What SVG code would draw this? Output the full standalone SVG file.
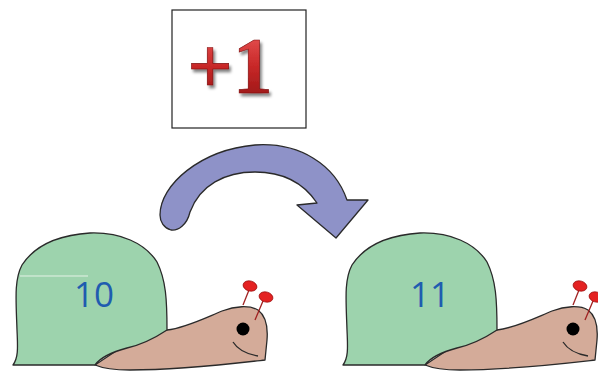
<svg xmlns="http://www.w3.org/2000/svg" xmlns:xlink="http://www.w3.org/1999/xlink" width="598" height="374" viewBox="0 0 598 374">
<style>
.ol{stroke:#2a2a2a;stroke-width:1.3;stroke-linejoin:round}
.shell{fill:#9dd3ad}
.body{fill:#d4ab99}
.num{font-family:"Open Sans","Noto Sans",sans-serif;font-size:35px;fill:#1f5cb0;text-anchor:middle}
</style>
<defs>
<linearGradient id="red" x1="0" y1="0" x2="0" y2="1">
<stop offset="0" stop-color="#f06060"/>
<stop offset="0.5" stop-color="#c82828"/>
<stop offset="1" stop-color="#8a1010"/>
</linearGradient>
<filter id="sh" x="-20%" y="-20%" width="150%" height="150%">
<feGaussianBlur in="SourceAlpha" stdDeviation="1.5"/>
<feOffset dx="2" dy="3" result="b"/>
<feComponentTransfer><feFuncA type="linear" slope="0.5"/></feComponentTransfer>
<feMerge><feMergeNode/><feMergeNode in="SourceGraphic"/></feMerge>
</filter>
<g id="snail">
<path class="body ol" d="M140,335 L167,330 C185,328 205,318 222,311 C235,306 250,305 258,310 C266,316 268,328 267,340 L265,360 C230,364 180,370 130,370 C115,370 102,368 95,365 Z"/>
<path class="shell ol" d="M13,365 C18,358 18,350 17,330 C16,300 14,280 22,265 C35,245 60,235 90,233 C120,232 145,243 157,262 C166,280 167,300 167,330 C155,338 140,345 127,348 C112,352 100,358 95,365 Z"/>
<circle cx="243" cy="329" r="6.5" fill="#000"/>
<path d="M233,342 C238,350 246,354 258,356" fill="none" stroke="#2a2a2a" stroke-width="1.3"/>
<line x1="243" y1="305" x2="249" y2="290" stroke="#a02020" stroke-width="1.3"/>
<line x1="255" y1="320" x2="263" y2="301" stroke="#a02020" stroke-width="1.3"/>
<ellipse cx="250" cy="286" rx="7" ry="5" fill="#e42222" stroke="#a01010" stroke-width="0.8" transform="rotate(15 250 286)"/>
<ellipse cx="266" cy="297" rx="7" ry="5" fill="#e42222" stroke="#a01010" stroke-width="0.8" transform="rotate(15 266 297)"/>
</g>
</defs>
<g id="box">
<rect x="172" y="10" width="134" height="118" fill="#fff" stroke="#222" stroke-width="1.2"/>
<text x="230" y="93" font-family="Liberation Serif,serif" font-weight="bold" font-size="80" text-anchor="middle" fill="url(#red)" stroke="#7a0a0a" stroke-width="0.6" filter="url(#sh)">+1</text>
</g>
<g id="connectors">
<path d="M160,215 C160,185 200,150 255,145 C300,142 335,165 347,200 L368,200 L336,238 L297,205 L317,203 C305,185 285,172 255,172 C225,172 200,185 190,212 C187,225 178,231 171,230 C164,228 160,222 160,215 Z" fill="#8e92c8" class="ol"/>
</g>
<g id="snail-10">
<use xlink:href="#snail"/>
<line x1="20" y1="276" x2="88" y2="276" stroke="#e4f2e6" stroke-width="1"/>
<text class="num" x="94" y="307">10</text>
</g>
<g id="snail-11">
<use xlink:href="#snail" transform="translate(330 0)"/>
<text class="num" x="430" y="307">11</text>
</g>
</svg>
